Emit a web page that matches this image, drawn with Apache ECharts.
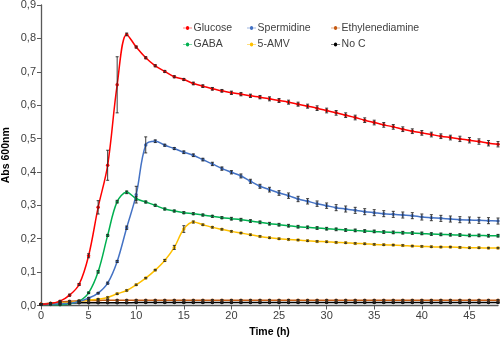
<!DOCTYPE html>
<html>
<head>
<meta charset="utf-8">
<script src="https://cdn.jsdelivr.net/npm/echarts@6/dist/echarts.min.js"></script>
<style>html,body{margin:0;padding:0;background:#fff}#c{width:500px;height:339px}</style>
</head>
<body>
<div id="c"></div>
<script>
var hours = [0,1,2,3,4,5,6,7,8,9,10,11,12,13,14,15,16,17,18,19,20,21,22,23,24,25,26,27,28,29,30,31,32,33,34,35,36,37,38,39,40,41,42,43,44,45,46,47,48];
var seriesNames = ['Glucose','Spermidine','Ethylenediamine','GABA','5-AMV','No C'];
var seriesColors = ['#FF0000','#4472C4','#C55A11','#00B050','#FFC000','#000000'];

var glucose = [0.004,0.006,0.013,0.031,0.063,0.149,0.294,0.420,0.661,0.812,0.774,0.742,0.718,0.701,0.685,0.677,0.665,0.657,0.649,0.643,0.637,0.633,0.628,0.624,0.619,0.614,0.609,0.603,0.597,0.591,0.584,0.577,0.570,0.563,0.555,0.548,0.541,0.535,0.528,0.522,0.517,0.512,0.507,0.503,0.499,0.495,0.491,0.486,0.483];
var spermidine = [0.003,0.004,0.005,0.007,0.012,0.022,0.037,0.067,0.132,0.233,0.332,0.481,0.492,0.480,0.470,0.459,0.450,0.437,0.424,0.410,0.399,0.388,0.372,0.357,0.347,0.337,0.329,0.319,0.312,0.305,0.299,0.293,0.289,0.285,0.281,0.278,0.275,0.273,0.271,0.269,0.265,0.263,0.261,0.259,0.257,0.256,0.255,0.254,0.253];
var ethylenediamine = [0.004,0.007,0.010,0.013,0.014,0.015,0.015,0.016,0.016,0.016,0.016,0.016,0.016,0.016,0.016,0.016,0.016,0.016,0.016,0.016,0.016,0.016,0.016,0.016,0.016,0.016,0.016,0.016,0.016,0.016,0.016,0.016,0.016,0.016,0.016,0.016,0.016,0.016,0.016,0.016,0.016,0.016,0.016,0.016,0.016,0.016,0.016,0.016,0.016];
var gaba = [0.003,0.003,0.002,0.005,0.013,0.038,0.101,0.210,0.311,0.339,0.320,0.310,0.300,0.289,0.283,0.278,0.275,0.271,0.267,0.263,0.260,0.257,0.253,0.249,0.245,0.242,0.239,0.236,0.234,0.232,0.230,0.228,0.226,0.225,0.223,0.222,0.220,0.219,0.218,0.217,0.216,0.214,0.213,0.212,0.211,0.210,0.210,0.209,0.209];
var amv = [0.004,0.005,0.007,0.009,0.012,0.016,0.019,0.024,0.035,0.045,0.062,0.082,0.106,0.135,0.174,0.229,0.250,0.242,0.234,0.228,0.222,0.217,0.212,0.207,0.203,0.200,0.198,0.196,0.194,0.192,0.191,0.189,0.188,0.186,0.185,0.183,0.182,0.181,0.180,0.178,0.177,0.176,0.175,0.175,0.174,0.173,0.173,0.172,0.172];
var noC = [0.004,0.006,0.006,0.007,0.008,0.008,0.008,0.008,0.008,0.008,0.009,0.009,0.009,0.009,0.009,0.009,0.009,0.009,0.009,0.009,0.009,0.009,0.009,0.009,0.009,0.009,0.009,0.009,0.009,0.009,0.009,0.009,0.009,0.009,0.009,0.009,0.009,0.009,0.009,0.009,0.009,0.009,0.009,0.009,0.009,0.009,0.009,0.009,0.009];

var errGlucose = [0.002,0.002,0.002,0.003,0.003,0.006,0.020,0.045,0.084,0.004,0.003,0.003,0.003,0.003,0.003,0.003,0.004,0.004,0.004,0.004,0.005,0.005,0.005,0.005,0.006,0.006,0.006,0.006,0.006,0.007,0.007,0.007,0.007,0.007,0.007,0.007,0.007,0.007,0.007,0.007,0.007,0.007,0.007,0.007,0.008,0.008,0.008,0.008,0.008];
var errSpermidine = [0.002,0.002,0.002,0.002,0.002,0.002,0.002,0.003,0.003,0.005,0.025,0.024,0.004,0.003,0.003,0.004,0.004,0.004,0.005,0.005,0.005,0.006,0.006,0.006,0.007,0.007,0.008,0.008,0.008,0.008,0.008,0.009,0.009,0.009,0.009,0.009,0.009,0.009,0.009,0.009,0.009,0.009,0.009,0.009,0.009,0.009,0.009,0.009,0.009];
var errEthylenediamine = [0.002,0.002,0.002,0.002,0.002,0.002,0.002,0.002,0.002,0.002,0.002,0.002,0.002,0.002,0.002,0.002,0.002,0.002,0.002,0.002,0.002,0.002,0.002,0.002,0.002,0.002,0.002,0.002,0.002,0.002,0.002,0.002,0.002,0.002,0.002,0.002,0.002,0.002,0.002,0.002,0.002,0.002,0.002,0.002,0.002,0.002,0.002,0.002,0.002];
var errGaba = [0.002,0.002,0.002,0.002,0.002,0.002,0.004,0.003,0.004,0.004,0.006,0.003,0.003,0.003,0.003,0.003,0.003,0.003,0.003,0.003,0.004,0.004,0.004,0.004,0.004,0.004,0.004,0.004,0.004,0.004,0.004,0.004,0.004,0.004,0.004,0.004,0.004,0.004,0.004,0.004,0.004,0.004,0.004,0.004,0.004,0.004,0.004,0.004,0.004];
var errAmv = [0.002,0.002,0.002,0.002,0.002,0.002,0.002,0.002,0.002,0.002,0.002,0.002,0.002,0.003,0.006,0.010,0.003,0.002,0.002,0.002,0.002,0.002,0.002,0.002,0.002,0.002,0.002,0.002,0.002,0.002,0.002,0.002,0.002,0.002,0.002,0.002,0.002,0.002,0.002,0.002,0.002,0.002,0.002,0.002,0.002,0.002,0.002,0.002,0.002];
var errNoC = [0.002,0.002,0.002,0.002,0.002,0.002,0.002,0.002,0.002,0.002,0.002,0.002,0.002,0.002,0.002,0.002,0.002,0.002,0.002,0.002,0.002,0.002,0.002,0.002,0.002,0.002,0.002,0.002,0.002,0.002,0.002,0.002,0.002,0.002,0.002,0.002,0.002,0.002,0.002,0.002,0.002,0.002,0.002,0.002,0.002,0.002,0.002,0.002,0.002];

var yTicks = [0,0.1,0.2,0.3,0.4,0.5,0.6,0.7,0.8,0.9];
var xTicks = [0,5,10,15,20,25,30,35,40,45];

var values = [glucose, spermidine, ethylenediamine, gaba, amv, noC];
var errors = [errGlucose, errSpermidine, errEthylenediamine, errGaba, errAmv, errNoC];

var FONT = '"Liberation Sans", Arial, sans-serif';
var chart = echarts.init(document.getElementById('c'), null, {renderer: 'canvas'});

var series = [];
var drawOrder = [5, 2, 4, 3, 1, 0];
drawOrder.forEach(function (i) {
  series.push({
    name: seriesNames[i],
    type: 'line',
    data: hours.map(function (h, k) { return [h, values[i][k]]; }),
    smooth: 0.35,
    symbol: 'circle',
    symbolSize: 3.5,
    showSymbol: true,
    itemStyle: {color: seriesColors[i]},
    lineStyle: {color: seriesColors[i], width: 1.5},
    z: 3,
    animation: false
  });
});
drawOrder.forEach(function (i) {
  series.push({
    name: seriesNames[i] + ' err',
    type: 'custom',
    data: hours.map(function (h, k) { return [h, values[i][k], errors[i][k]]; }),
    renderItem: function (params, api) {
      var x = api.value(0), y = api.value(1), e = api.value(2);
      var top = api.coord([x, y + e]);
      var bot = api.coord([x, y - e]);
      var hw = 1.5;
      var st = {stroke: '#262626', lineWidth: 0.9};
      return {
        type: 'group',
        children: [
          {type: 'line', shape: {x1: top[0], y1: top[1], x2: bot[0], y2: bot[1]}, style: st},
          {type: 'line', shape: {x1: top[0] - hw, y1: top[1], x2: top[0] + hw, y2: top[1]}, style: st},
          {type: 'line', shape: {x1: bot[0] - hw, y1: bot[1], x2: bot[0] + hw, y2: bot[1]}, style: st}
        ]
      };
    },
    z: 4,
    silent: true,
    animation: false
  });
});

var legendIcon = 'path://M0,2.1L3.2,2.1A1.8,1.8,0,1,1,6.8,2.1L10,2.1L10,2.9L6.8,2.9A1.8,1.8,0,1,1,3.2,2.9L0,2.9Z';
function legendAt(left, names) {
  return {
    orient: 'vertical',
    left: left,
    top: 22.5,
    padding: 0,
    itemWidth: 10,
    itemHeight: 4,
    itemGap: 5.5,
    data: names.map(function (n) { return {name: n, icon: legendIcon}; }),
    textStyle: {fontFamily: FONT, fontSize: 10.5, color: '#404040', padding: [0, 0, 0, -4]},
    selectedMode: false
  };
}

var option = {
  backgroundColor: '#fff',
  animation: false,
  textStyle: {fontFamily: FONT},
  grid: {left: 41, right: 2, top: 5, bottom: 33.5, containLabel: false, outerBoundsMode: 'none'},
  legend: [
    legendAt(183, [seriesNames[0], seriesNames[3]]),
    legendAt(247, [seriesNames[1], seriesNames[4]]),
    legendAt(331, [seriesNames[2], seriesNames[5]])
  ],
  xAxis: {
    type: 'value',
    min: 0,
    max: 48,
    interval: 5,
    name: 'Time (h)',
    nameLocation: 'middle',
    nameGap: 21,
    nameMoveOverlap: false,
    nameTextStyle: {fontFamily: FONT, fontWeight: 'bold', fontSize: 10.5, color: '#000'},
    axisLine: {lineStyle: {color: '#595959', width: 1.3}},
    axisTick: {show: true, inside: false, length: 4, lineStyle: {color: '#595959'}},
    axisLabel: {fontFamily: FONT, fontSize: 11, color: '#404040', margin: 5, showMaxLabel: false,
      formatter: function (v) { return xTicks.indexOf(v) >= 0 ? String(v) : ''; }},
    splitLine: {show: false}
  },
  yAxis: {
    type: 'value',
    min: 0,
    max: 0.9,
    interval: 0.1,
    name: 'Abs 600nm',
    nameLocation: 'middle',
    nameGap: 29,
    nameMoveOverlap: false,
    nameTextStyle: {fontFamily: FONT, fontWeight: 'bold', fontSize: 10.5, color: '#000'},
    axisLine: {show: true, lineStyle: {color: '#595959', width: 1.3}},
    axisTick: {show: true, inside: false, length: 4, lineStyle: {color: '#595959'}},
    axisLabel: {fontFamily: FONT, fontSize: 11, color: '#404040', margin: 5,
      formatter: function (v) {
        var t = yTicks.filter(function (q) { return Math.abs(q - v) < 1e-6; });
        return t.length ? t[0].toFixed(1).replace('.', ',') : '';
      }},
    splitLine: {show: false}
  },
  series: series
};
chart.setOption(option);
</script>
</body>
</html>
